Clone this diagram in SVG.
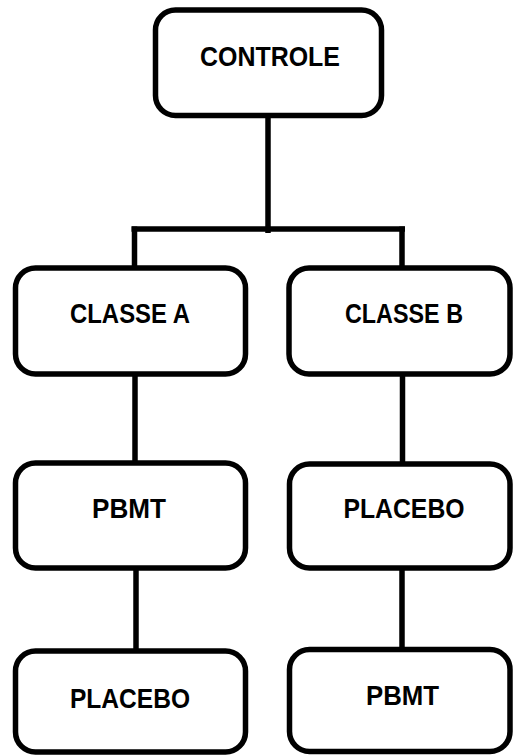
<svg xmlns="http://www.w3.org/2000/svg" width="513" height="755" viewBox="0 0 513 755">
<style>
.box{fill:#fff;stroke:#000;stroke-width:5.5}
.lbl{font-family:"Liberation Sans",Arial,sans-serif;font-weight:bold;font-size:28.5px;fill:#000;text-anchor:middle}
.con{fill:none;stroke:#000;stroke-width:5.5;stroke-linecap:butt}
</style>
<rect width="513" height="755" fill="#fff"/>
<g id="connectors">
<path class="con" d="M268 115V233"/>
<path class="con" d="M131.5 229H405"/>
<path class="con" d="M134.5 226.5V268"/>
<path class="con" d="M402 226.5V268"/>
<path class="con" d="M135 374V463"/>
<path class="con" d="M402.5 374V464"/>
<path class="con" d="M136 563V651"/>
<path class="con" d="M402 558V649.5"/>
</g>
<g id="controle">
<rect class="box" x="155.5" y="10" width="226" height="105.5" rx="20"/>
<text class="lbl" x="270" y="65.5" textLength="140" lengthAdjust="spacingAndGlyphs">CONTROLE</text>
</g>
<g id="classe-a">
<rect class="box" x="15.5" y="268" width="230" height="106" rx="20"/>
<text class="lbl" x="130" y="322.5" textLength="120" lengthAdjust="spacingAndGlyphs">CLASSE A</text>
</g>
<g id="classe-b">
<rect class="box" x="289" y="268" width="221" height="106" rx="20"/>
<text class="lbl" x="404" y="322.5" textLength="118" lengthAdjust="spacingAndGlyphs">CLASSE B</text>
</g>
<g id="pbmt-a">
<rect class="box" x="15.5" y="463" width="230" height="105" rx="20"/>
<text class="lbl" x="129" y="517.5" textLength="74" lengthAdjust="spacingAndGlyphs">PBMT</text>
</g>
<g id="placebo-b">
<rect class="box" x="289.5" y="464" width="220.5" height="104" rx="20"/>
<text class="lbl" x="404" y="517.5" textLength="121" lengthAdjust="spacingAndGlyphs">PLACEBO</text>
</g>
<g id="placebo-a">
<rect class="box" x="15.5" y="651" width="230" height="101" rx="20"/>
<text class="lbl" x="130" y="707.5" textLength="120" lengthAdjust="spacingAndGlyphs">PLACEBO</text>
</g>
<g id="pbmt-b">
<rect class="box" x="289.5" y="649.5" width="220.5" height="102" rx="20"/>
<text class="lbl" x="402.5" y="704.5" textLength="73" lengthAdjust="spacingAndGlyphs">PBMT</text>
</g>
</svg>
